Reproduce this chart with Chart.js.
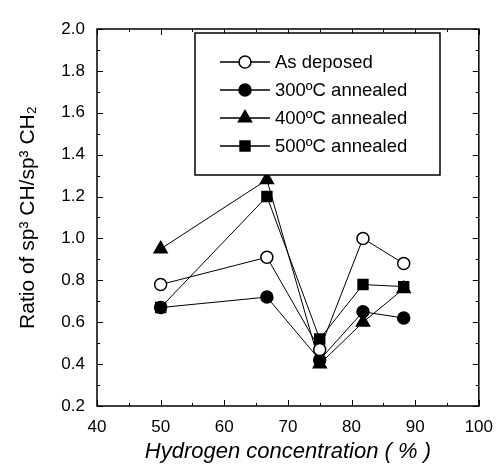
<!DOCTYPE html>
<html>
<head>
<meta charset="utf-8">
<script src="https://cdn.jsdelivr.net/npm/chart.js@4"></script>
<style>
  html, body { margin: 0; padding: 0; background: #fff; }
  #c { display: block; }
</style>
</head>
<body>
<canvas id="c" width="496" height="468"></canvas>
<script>
// values
const hydrogen = [50, 66.7, 75, 81.8, 88.2];
const asDeposed = [0.78, 0.91, 0.47, 1.00, 0.88];
const annealed300 = [0.67, 0.72, 0.42, 0.65, 0.62];
const annealed400 = [0.95, 1.28, 0.40, 0.60, 0.76];
const annealed500 = [0.67, 1.20, 0.52, 0.78, 0.77];
const seriesNames = ["As deposed", "300ºC annealed", "400ºC annealed", "500ºC annealed"];
const xTicks = [40, 50, 60, 70, 80, 90, 100];
const yTicks = [0.2, 0.4, 0.6, 0.8, 1.0, 1.2, 1.4, 1.6, 1.8, 2.0];

const FONT = "'Liberation Sans', Arial, sans-serif";

function pts(ys) {
  return hydrogen.map((x, i) => ({ x: x, y: ys[i] }));
}

function ds(label, ys, style, radius, fill) {
  return {
    label: label,
    data: pts(ys),
    borderColor: "#000",
    borderWidth: 1,
    pointStyle: style,
    pointRadius: radius,
    pointHoverRadius: radius,
    pointBackgroundColor: fill,
    pointBorderColor: "#000",
    pointBorderWidth: 1.5,
    tension: 0
  };
}

// box frame + inward ticks on all four sides
const frame = {
  id: "frame",
  afterDatasetsDraw(chart) {
    const { ctx, chartArea: ca, scales } = chart;
    const xs = scales.x, ys = scales.y;
    ctx.save();
    ctx.strokeStyle = "#000";
    ctx.lineWidth = 1.5;
    ctx.strokeRect(ca.left, ca.top, ca.right - ca.left, ca.bottom - ca.top);
    ctx.lineWidth = 1;
    ctx.beginPath();
    for (let v = 40; v <= 100; v += 5) {
      const px = Math.round(xs.getPixelForValue(v)) + 0.5;
      const len = v % 10 === 0 ? 6 : 3;
      ctx.moveTo(px, ca.bottom); ctx.lineTo(px, ca.bottom - len);
      ctx.moveTo(px, ca.top); ctx.lineTo(px, ca.top + len);
    }
    for (let i = 2; i <= 20; i++) {
      const py = Math.round(ys.getPixelForValue(i / 10)) + 0.5;
      const len = i % 2 === 0 ? 6 : 3;
      ctx.moveTo(ca.left, py); ctx.lineTo(ca.left + len, py);
      ctx.moveTo(ca.right, py); ctx.lineTo(ca.right - len, py);
    }
    ctx.stroke();
    ctx.restore();
  }
};

// boxed legend with line-through-marker symbols
const boxLegend = {
  id: "boxLegend",
  afterDraw(chart) {
    const { ctx, chartArea: ca } = chart;
    const left = ca.left + 98, top = ca.top + 4;
    const w = 245, h = 142;
    ctx.save();
    ctx.fillStyle = "#fff";
    ctx.fillRect(left, top, w, h);
    ctx.strokeStyle = "#000";
    ctx.lineWidth = 1.5;
    ctx.strokeRect(left, top, w, h);
    ctx.font = "18.5px " + FONT;
    ctx.textBaseline = "middle";
    chart.data.datasets.forEach((d, i) => {
      const y = top + 29 + i * 28;
      const mx = left + 50;
      ctx.lineWidth = 1.5;
      ctx.strokeStyle = "#000";
      ctx.beginPath();
      ctx.moveTo(left + 25, y); ctx.lineTo(left + 75, y);
      ctx.stroke();
      ctx.fillStyle = d.pointBackgroundColor;
      ctx.lineWidth = d.pointBorderWidth;
      Chart.helpers.drawPoint(ctx, { pointStyle: d.pointStyle, radius: d.pointRadius, borderWidth: d.pointBorderWidth, rotation: 0 }, mx, y);
      ctx.fillStyle = "#000";
      ctx.fillText(d.label, left + 80, y + 1);
    });
    ctx.restore();
  }
};

new Chart(document.getElementById("c"), {
  type: "line",
  data: {
    datasets: [
      ds(seriesNames[0], asDeposed, "circle", 6, "#fff"),
      ds(seriesNames[1], annealed300, "circle", 6, "#000"),
      ds(seriesNames[2], annealed400, "triangle", 7.5, "#000"),
      ds(seriesNames[3], annealed500, "rect", 7, "#000")
    ]
  },
  options: {
    responsive: false,
    devicePixelRatio: 1,
    animation: false,
    layout: { padding: { top: 29, right: 16, left: 0, bottom: 0 } },
    plugins: { legend: { display: false }, tooltip: { enabled: false } },
    scales: {
      x: {
        type: "linear",
        min: 40,
        max: 100,
        afterFit(s) { s.height = 62; },
        afterBuildTicks(s) { s.ticks = xTicks.map(v => ({ value: v })); },
        grid: { display: false },
        border: { display: false },
        ticks: { color: "#000", font: { family: FONT, size: 17 }, padding: 3, maxRotation: 0 },
        title: {
          display: true,
          text: "Hydrogen concentration ( % )",
          color: "#000",
          font: { family: FONT, size: 22, style: "italic" },
          padding: { top: 0, bottom: 3 }
        }
      },
      y: {
        type: "linear",
        min: 0.2,
        max: 2.0,
        afterFit(s) { s.width = 97; },
        afterBuildTicks(s) { s.ticks = yTicks.map(v => ({ value: v })); },
        grid: { display: false },
        border: { display: false },
        ticks: { color: "#000", font: { family: FONT, size: 17 }, padding: 4, callback: v => v.toFixed(1) },
        title: {
          display: true,
          text: "Ratio of sp³ CH/sp³ CH₂",
          color: "#000",
          font: { family: FONT, size: 21 },
          padding: { top: 16, bottom: 4 }
        }
      }
    }
  },
  plugins: [frame, boxLegend]
});
</script>
</body>
</html>
